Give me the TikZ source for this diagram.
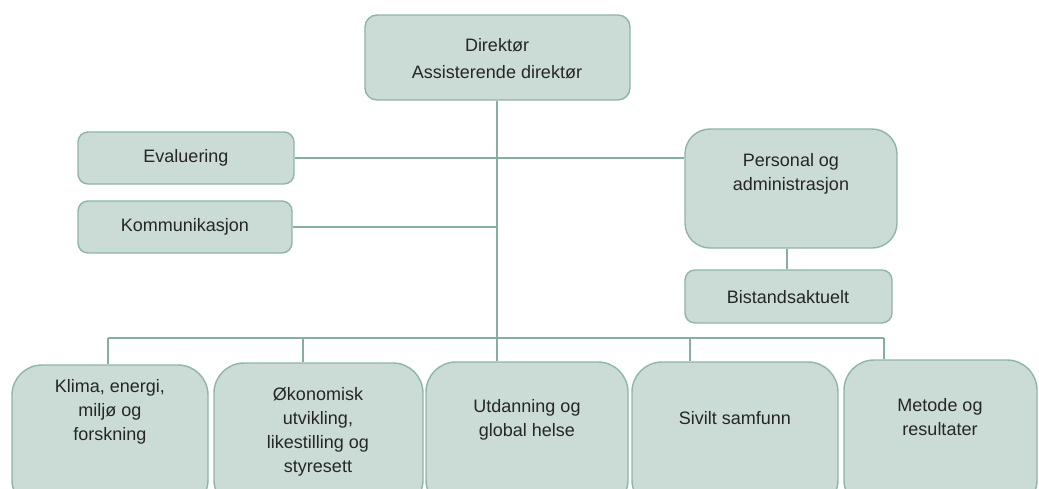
\documentclass[tikz,border=0pt]{standalone}
\usepackage{fontspec}
\setmainfont{Liberation Sans}
\definecolor{boxfill}{RGB}{202,220,213}
\definecolor{boxline}{RGB}{143,181,165}
\definecolor{conline}{RGB}{135,175,160}
\definecolor{txtcol}{RGB}{38,38,38}
\begin{document}
\begin{tikzpicture}[x=1pt,y=-1pt,
  orgbox/.style={draw=boxline,fill=boxfill,line width=1.4pt,rectangle,inner sep=0pt},
  txt/.style={align=center,text=txtcol,inner sep=0pt,font=\fontsize{18}{24}\selectfont},
  conn/.style={draw=conline,line width=1.4pt}]
\useasboundingbox (0,0) rectangle (1039,488);
\clip (0,0) rectangle (1039,488);
% boxes
\node[orgbox,rounded corners=12pt,minimum width=265pt,minimum height=85pt] (dir) at (497.5,57.5) {};
\node[orgbox,rounded corners=10pt,minimum width=216pt,minimum height=52pt] (eval) at (186,158) {};
\node[orgbox,rounded corners=10pt,minimum width=214pt,minimum height=52pt] (komm) at (185,227) {};
\node[orgbox,rounded corners=25pt,minimum width=212pt,minimum height=119pt] (pers) at (791,188.5) {};
\node[orgbox,rounded corners=10pt,minimum width=207pt,minimum height=53pt] (bist) at (788.5,296.5) {};
\node[orgbox,rounded corners=30pt,minimum width=196pt,minimum height=145pt] (b1) at (110,437.5) {};
\node[orgbox,rounded corners=30pt,minimum width=209pt,minimum height=147pt] (b2) at (318.5,436.5) {};
\node[orgbox,rounded corners=30pt,minimum width=202pt,minimum height=148pt] (b3) at (527,436) {};
\node[orgbox,rounded corners=30pt,minimum width=206pt,minimum height=148pt] (b4) at (735,436) {};
\node[orgbox,rounded corners=30pt,minimum width=193pt,minimum height=150pt] (b5) at (940.5,435) {};
% texts
\node[txt,font=\fontsize{18}{27}\selectfont] (dirt) at (497,59) {Direktør\\Assisterende direktør};
\node[txt] (evalt) at (186,158) {Evaluering};
\node[txt] (kommt) at (185,227) {Kommunikasjon};
\node[txt] (perst) at (791,174) {Personal og\\administrasjon};
\node[txt] (bistt) at (788,297) {Bistandsaktuelt};
\node[txt] (b1t) at (110,412) {Klima, energi,\\miljø og\\forskning};
\node[txt] (b2t) at (318,432) {Økonomisk\\utvikling,\\likestilling og\\styresett};
\node[txt] (b3t) at (527,420) {Utdanning og\\global helse};
\node[txt] (b4t) at (735,418) {Sivilt samfunn};
\node[txt] (b5t) at (940,417) {Metode og\\resultater};
% bus coordinates
\coordinate (c1) at (108,338);
\coordinate (c2) at (303,338);
\coordinate (c3) at (497,338);
\coordinate (c4) at (690,338);
\coordinate (c5) at (884,338);
% connectors
\draw[conn] (dir.south -| c3) -- (c3 |- b3.north);
\draw[conn] (eval.east) -- (eval.east -| pers.west);
\draw[conn] (komm.east) -- (komm.east -| c3);
\draw[conn] (bist.north -| 787,0) -- (pers.south -| 787,0);
\draw[conn] (c1) -- (c5);
\draw[conn] (c1) -- (c1 |- b1.north);
\draw[conn] (c2) -- (c2 |- b2.north);
\draw[conn] (c4) -- (c4 |- b4.north);
\draw[conn] (c5) -- (c5 |- b5.north);
\end{tikzpicture}
\end{document}
